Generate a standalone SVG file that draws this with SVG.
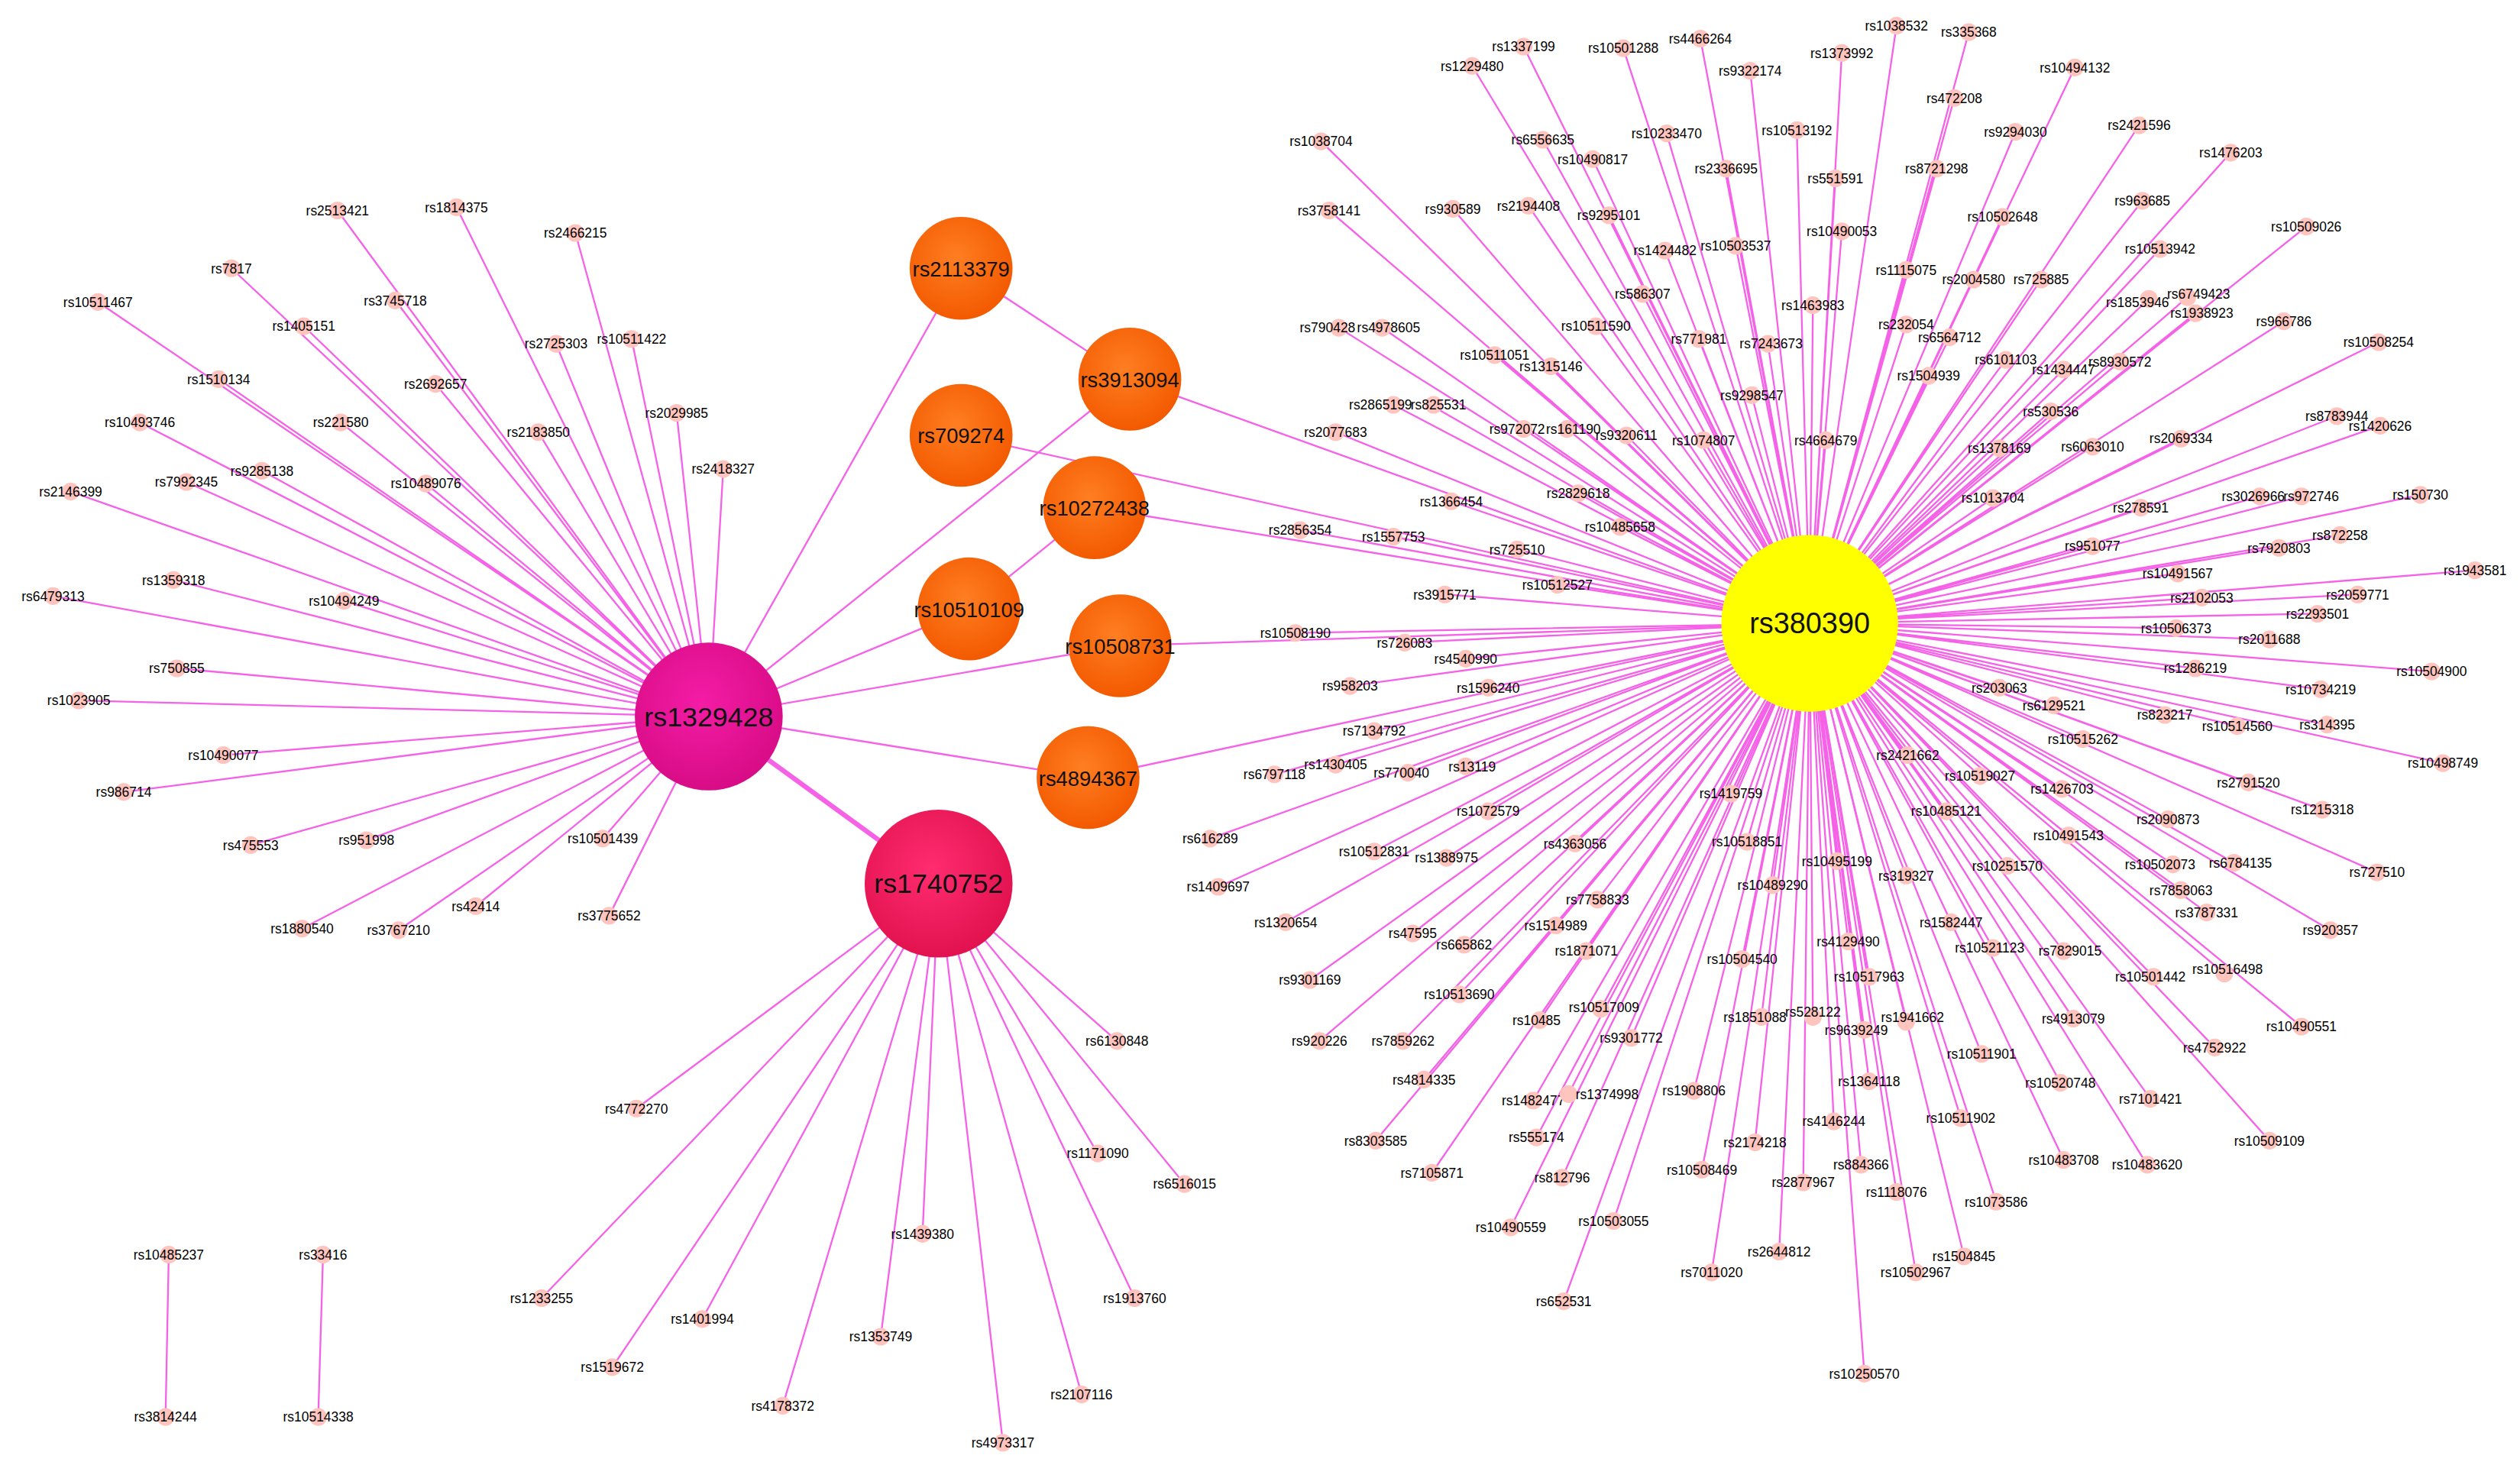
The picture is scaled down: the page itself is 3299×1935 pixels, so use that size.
<svg xmlns="http://www.w3.org/2000/svg" width="3299" height="1935" viewBox="0 0 3299 1935">
<style>
.e{stroke:#f562e8;stroke-width:1.1;fill:none}
.t{stroke:#f562e8;stroke-width:3;fill:none}
.d{fill:#ffc4bd}
.l{font-family:"Liberation Sans",Arial,sans-serif;font-size:8.3px;fill:#000;text-anchor:middle}
.h{font-family:"Liberation Sans",Arial,sans-serif;fill:#111;text-anchor:middle}
</style>
<defs>
<radialGradient id="gO" cx="0.45" cy="0.4" r="0.6"><stop offset="0" stop-color="#ff7e22"/><stop offset="1" stop-color="#f35a00"/></radialGradient>
<radialGradient id="gH1" cx="0.45" cy="0.4" r="0.6"><stop offset="0" stop-color="#f41ca6"/><stop offset="1" stop-color="#d80c86"/></radialGradient>
<radialGradient id="gH2" cx="0.45" cy="0.4" r="0.6"><stop offset="0" stop-color="#ff2d70"/><stop offset="1" stop-color="#e2114f"/></radialGradient>
</defs>
<rect width="3299" height="1935" fill="#fff"/>
<g transform="scale(2.104,2.1033)">
<g id="connectors">
<path class="t" d="M441 446L584 550"/>
<path class="e" d="M441 446L598 167M598 167L703 236M441 446L703 236M703 236L1126 388M598 271L1126 388M441 446L603 379M603 379L681 316M681 316L1126 388M441 446L697 402M697 402L1126 388M441 446L677 484M677 484L1126 388"/>
<path class="e" d="M441 446L210 131M441 446L284 129M441 446L358 145M441 446L144 167M441 446L61 188M441 446L246 187M441 446L189 203M441 446L346 214M441 446L393 211M441 446L136 236M441 446L271 239M441 446L421 257M441 446L87 263M441 446L212 263M441 446L335 269M441 446L450 292M441 446L163 293M441 446L116 300M441 446L265 301M441 446L44 306M441 446L108 361M441 446L33 371M441 446L214 374M441 446L110 416M441 446L49 436M441 446L139 470M441 446L77 493M441 446L156 526M441 446L228 523M441 446L375 522M441 446L296 564M441 446L188 578M441 446L248 579M441 446L379 570"/>
<path class="e" d="M584 550L695 648M584 550L396 690M584 550L683 718M584 550L737 737M584 550L574 768M584 550L337 808M584 550L437 821M584 550L706 808M584 550L548 832M584 550L381 851M584 550L673 868M584 550L487 875M584 550L624 898M105 781L103 882M201 781L198 882"/>
<path class="e" d="M1126 388L1180 16M1126 388L1225 20M1126 388L1058 24M1126 388L948 29M1126 388L1010 30M1126 388L1146 33M1126 388L916 41M1126 388L1089 44M1126 388L1291 42M1126 388L1216 61M1126 388L1118 81M1126 388L1037 83M1126 388L822 88M1126 388L960 87M1126 388L991 99M1126 388L1254 82M1126 388L1331 78M1126 388L1388 95M1126 388L1074 105M1126 388L1142 111M1126 388L1205 105M1126 388L827 131M1126 388L904 130M1126 388L951 128M1126 388L1001 134M1126 388L1146 144M1126 388L1246 135M1126 388L1333 125M1126 388L1435 141M1126 388L1036 156M1126 388L1080 153M1126 388L1344 155M1126 388L1186 168M1126 388L1228 174M1126 388L1270 174M1126 388L1022 183M1126 388L1128 190M1126 388L1337 186M1126 388L1361 185M1126 388L1366 195M1126 388L1421 200M1126 388L993 203M1126 388L1057 211M1126 388L1100 214M1126 388L1480 213M1126 388L1186 202M1126 388L1213 210M1126 388L1248 224M1126 388L1284 230M1126 388L1319 225M1126 388L833 204M1126 388L860 204M1126 388L930 221M1126 388L965 228M1126 388L1200 234M1126 388L867 252M1126 388L890 252M1126 388L1090 246M1126 388L831 269M1126 388L948 267M1126 388L975 267M1126 388L1012 271M1126 388L1060 274M1126 388L1136 274M1126 388L1276 256M1126 388L1454 259M1126 388L1481 265M1126 388L1244 279M1126 388L1302 278M1126 388L1357 273M1126 388L903 312M1126 388L982 307M1126 388L1008 328M1126 388L809 330M1126 388L867 334M1126 388L944 342M1126 388L969 364M1126 388L899 370M1126 388L1240 310M1126 388L1332 316M1126 388L1406 309M1126 388L1432 309M1126 388L1506 308M1126 388L1302 340M1126 388L1456 333M1126 388L1418 341M1126 388L1355 357M1126 388L1540 355M1126 388L1370 372M1126 388L1467 370M1126 388L1442 382M1126 388L1354 391M1126 388L1412 398M1126 388L1366 416M1126 388L1513 418M1126 388L1444 429M1126 388L1244 428M1126 388L1278 439M1126 388L1347 445M1126 388L1392 452M1126 388L1448 451M1126 388L1296 460M1126 388L1520 475M1126 388L1187 470M1126 388L1232 483M1126 388L1283 491M1126 388L1399 487M1126 388L1445 504M1126 388L1211 505M1126 388L1349 510M1126 388L1287 520M1126 388L1352 538M1126 388L1390 537M1126 388L1479 543M1126 388L1249 539M1126 388L1186 545M1126 388L1357 554M1126 388L1373 568M1126 388L1214 574M1126 388L1450 579M1126 388L1240 590M1126 388L1284 592M1126 388L1340 608M1126 388L1384 606M1126 388L1290 634M1126 388L1432 639M1126 388L1378 652M1126 388L1233 656M1126 388L1282 674M1126 388L1338 684M1126 388L1412 710M1126 388L1284 722M1126 388L1336 725M1126 388L1242 748M1126 388L1222 782M1126 388L1192 792M1126 388L1160 855"/>
<path class="e" d="M1126 388L1077 494M1126 388L1087 524M1126 388L1143 536M1126 388L1103 551M1126 388L1150 586M1126 388L1084 597M1126 388L1163 608M1126 388L1096 633M1126 388L1128 633M1126 388L1160 641M1126 388L1186 636M1126 388L1163 673M1126 388L1141 698M1126 388L1220 696M1126 388L1092 711M1126 388L1059 728M1126 388L1158 725M1126 388L1122 736M1126 388L1180 742M1126 388L1107 779M1126 388L1065 792M1126 388L1054 679"/>
<path class="e" d="M1126 388L806 394M1126 388L874 400M1126 388L912 410M1126 388L840 427M1126 388L926 428M1126 388L855 455M1126 388L793 482M1126 388L831 476M1126 388L876 481M1126 388L912 477M1126 388L926 505M1126 388L980 525M1126 388L753 522M1126 388L855 530M1126 388L900 534M1126 388L758 552M1126 388L994 560M1126 388L800 574M1126 388L879 581M1126 388L911 588M1126 388L968 576M1126 388L987 592M1126 388L815 610M1126 388L908 619M1126 388L958 635M1126 388L996 628M1126 388L1015 646M1126 388L821 648M1126 388L873 648M1126 388L886 672M1126 388L954 685M1126 388L976 681M1126 388L856 710M1126 388L956 708M1126 388L891 730M1126 388L972 733M1126 388L1004 760M1126 388L940 764M1126 388L973 810"/>
</g>
<g id="leaves">
<g id="n1"><circle class="d" cx="210" cy="131" r="5.5"/><text class="l" x="210" y="134">rs2513421</text></g>
<g id="n2"><circle class="d" cx="284" cy="129" r="5.5"/><text class="l" x="284" y="132">rs1814375</text></g>
<g id="n3"><circle class="d" cx="358" cy="145" r="5.5"/><text class="l" x="358" y="148">rs2466215</text></g>
<g id="n4"><circle class="d" cx="144" cy="167" r="5.5"/><text class="l" x="144" y="170">rs7817</text></g>
<g id="n5"><circle class="d" cx="61" cy="188" r="5.5"/><text class="l" x="61" y="191">rs10511467</text></g>
<g id="n6"><circle class="d" cx="246" cy="187" r="5.5"/><text class="l" x="246" y="190">rs3745718</text></g>
<g id="n7"><circle class="d" cx="189" cy="203" r="5.5"/><text class="l" x="189" y="206">rs1405151</text></g>
<g id="n8"><circle class="d" cx="346" cy="214" r="5.5"/><text class="l" x="346" y="217">rs2725303</text></g>
<g id="n9"><circle class="d" cx="393" cy="211" r="5.5"/><text class="l" x="393" y="214">rs10511422</text></g>
<g id="n10"><circle class="d" cx="136" cy="236" r="5.5"/><text class="l" x="136" y="239">rs1510134</text></g>
<g id="n11"><circle class="d" cx="271" cy="239" r="5.5"/><text class="l" x="271" y="242">rs2692657</text></g>
<g id="n12"><circle class="d" cx="421" cy="257" r="5.5"/><text class="l" x="421" y="260">rs2029985</text></g>
<g id="n13"><circle class="d" cx="87" cy="263" r="5.5"/><text class="l" x="87" y="266">rs10493746</text></g>
<g id="n14"><circle class="d" cx="212" cy="263" r="5.5"/><text class="l" x="212" y="266">rs221580</text></g>
<g id="n15"><circle class="d" cx="335" cy="269" r="5.5"/><text class="l" x="335" y="272">rs2183850</text></g>
<g id="n16"><circle class="d" cx="450" cy="292" r="5.5"/><text class="l" x="450" y="295">rs2418327</text></g>
<g id="n17"><circle class="d" cx="163" cy="293" r="5.5"/><text class="l" x="163" y="296">rs9285138</text></g>
<g id="n18"><circle class="d" cx="116" cy="300" r="5.5"/><text class="l" x="116" y="303">rs7992345</text></g>
<g id="n19"><circle class="d" cx="265" cy="301" r="5.5"/><text class="l" x="265" y="304">rs10489076</text></g>
<g id="n20"><circle class="d" cx="44" cy="306" r="5.5"/><text class="l" x="44" y="309">rs2146399</text></g>
<g id="n21"><circle class="d" cx="108" cy="361" r="5.5"/><text class="l" x="108" y="364">rs1359318</text></g>
<g id="n22"><circle class="d" cx="33" cy="371" r="5.5"/><text class="l" x="33" y="374">rs6479313</text></g>
<g id="n23"><circle class="d" cx="214" cy="374" r="5.5"/><text class="l" x="214" y="377">rs10494249</text></g>
<g id="n24"><circle class="d" cx="110" cy="416" r="5.5"/><text class="l" x="110" y="419">rs750855</text></g>
<g id="n25"><circle class="d" cx="49" cy="436" r="5.5"/><text class="l" x="49" y="439">rs1023905</text></g>
<g id="n26"><circle class="d" cx="139" cy="470" r="5.5"/><text class="l" x="139" y="473">rs10490077</text></g>
<g id="n27"><circle class="d" cx="77" cy="493" r="5.5"/><text class="l" x="77" y="496">rs986714</text></g>
<g id="n28"><circle class="d" cx="156" cy="526" r="5.5"/><text class="l" x="156" y="529">rs475553</text></g>
<g id="n29"><circle class="d" cx="228" cy="523" r="5.5"/><text class="l" x="228" y="526">rs951998</text></g>
<g id="n30"><circle class="d" cx="375" cy="522" r="5.5"/><text class="l" x="375" y="525">rs10501439</text></g>
<g id="n31"><circle class="d" cx="296" cy="564" r="5.5"/><text class="l" x="296" y="567">rs42414</text></g>
<g id="n32"><circle class="d" cx="188" cy="578" r="5.5"/><text class="l" x="188" y="581">rs1880540</text></g>
<g id="n33"><circle class="d" cx="248" cy="579" r="5.5"/><text class="l" x="248" y="582">rs3767210</text></g>
<g id="n34"><circle class="d" cx="379" cy="570" r="5.5"/><text class="l" x="379" y="573">rs3775652</text></g>
<g id="n35"><circle class="d" cx="695" cy="648" r="5.5"/><text class="l" x="695" y="651">rs6130848</text></g>
<g id="n36"><circle class="d" cx="396" cy="690" r="5.5"/><text class="l" x="396" y="693">rs4772270</text></g>
<g id="n37"><circle class="d" cx="683" cy="718" r="5.5"/><text class="l" x="683" y="721">rs1171090</text></g>
<g id="n38"><circle class="d" cx="737" cy="737" r="5.5"/><text class="l" x="737" y="740">rs6516015</text></g>
<g id="n39"><circle class="d" cx="574" cy="768" r="5.5"/><text class="l" x="574" y="771">rs1439380</text></g>
<g id="n40"><circle class="d" cx="337" cy="808" r="5.5"/><text class="l" x="337" y="811">rs1233255</text></g>
<g id="n41"><circle class="d" cx="437" cy="821" r="5.5"/><text class="l" x="437" y="824">rs1401994</text></g>
<g id="n42"><circle class="d" cx="706" cy="808" r="5.5"/><text class="l" x="706" y="811">rs1913760</text></g>
<g id="n43"><circle class="d" cx="548" cy="832" r="5.5"/><text class="l" x="548" y="835">rs1353749</text></g>
<g id="n44"><circle class="d" cx="381" cy="851" r="5.5"/><text class="l" x="381" y="854">rs1519672</text></g>
<g id="n45"><circle class="d" cx="673" cy="868" r="5.5"/><text class="l" x="673" y="871">rs2107116</text></g>
<g id="n46"><circle class="d" cx="487" cy="875" r="5.5"/><text class="l" x="487" y="878">rs4178372</text></g>
<g id="n47"><circle class="d" cx="624" cy="898" r="5.5"/><text class="l" x="624" y="901">rs4973317</text></g>
<g id="n48"><circle class="d" cx="105" cy="781" r="5.5"/><text class="l" x="105" y="784">rs10485237</text></g>
<g id="n49"><circle class="d" cx="103" cy="882" r="5.5"/><text class="l" x="103" y="885">rs3814244</text></g>
<g id="n50"><circle class="d" cx="201" cy="781" r="5.5"/><text class="l" x="201" y="784">rs33416</text></g>
<g id="n51"><circle class="d" cx="198" cy="882" r="5.5"/><text class="l" x="198" y="885">rs10514338</text></g>
<g id="m1"><circle class="d" cx="1180" cy="16" r="5.5"/><text class="l" x="1180" y="19">rs1038532</text></g>
<g id="m2"><circle class="d" cx="1225" cy="20" r="5.5"/><text class="l" x="1225" y="23">rs335368</text></g>
<g id="m3"><circle class="d" cx="1058" cy="24" r="5.5"/><text class="l" x="1058" y="27">rs4466264</text></g>
<g id="m4"><circle class="d" cx="948" cy="29" r="5.5"/><text class="l" x="948" y="32">rs1337199</text></g>
<g id="m5"><circle class="d" cx="1010" cy="30" r="5.5"/><text class="l" x="1010" y="33">rs10501288</text></g>
<g id="m6"><circle class="d" cx="1146" cy="33" r="5.5"/><text class="l" x="1146" y="36">rs1373992</text></g>
<g id="m7"><circle class="d" cx="916" cy="41" r="5.5"/><text class="l" x="916" y="44">rs1229480</text></g>
<g id="m8"><circle class="d" cx="1089" cy="44" r="5.5"/><text class="l" x="1089" y="47">rs9322174</text></g>
<g id="m9"><circle class="d" cx="1291" cy="42" r="5.5"/><text class="l" x="1291" y="45">rs10494132</text></g>
<g id="m10"><circle class="d" cx="1216" cy="61" r="5.5"/><text class="l" x="1216" y="64">rs472208</text></g>
<g id="m11"><circle class="d" cx="1118" cy="81" r="5.5"/><text class="l" x="1118" y="84">rs10513192</text></g>
<g id="m12"><circle class="d" cx="1037" cy="83" r="5.5"/><text class="l" x="1037" y="86">rs10233470</text></g>
<g id="m13"><circle class="d" cx="822" cy="88" r="5.5"/><text class="l" x="822" y="91">rs1038704</text></g>
<g id="m14"><circle class="d" cx="960" cy="87" r="5.5"/><text class="l" x="960" y="90">rs6556635</text></g>
<g id="m15"><circle class="d" cx="991" cy="99" r="5.5"/><text class="l" x="991" y="102">rs10490817</text></g>
<g id="m16"><circle class="d" cx="1254" cy="82" r="5.5"/><text class="l" x="1254" y="85">rs9294030</text></g>
<g id="m17"><circle class="d" cx="1331" cy="78" r="5.5"/><text class="l" x="1331" y="81">rs2421596</text></g>
<g id="m18"><circle class="d" cx="1388" cy="95" r="5.5"/><text class="l" x="1388" y="98">rs1476203</text></g>
<g id="m19"><circle class="d" cx="1074" cy="105" r="5.5"/><text class="l" x="1074" y="108">rs2336695</text></g>
<g id="m20"><circle class="d" cx="1142" cy="111" r="5.5"/><text class="l" x="1142" y="114">rs551591</text></g>
<g id="m21"><circle class="d" cx="1205" cy="105" r="5.5"/><text class="l" x="1205" y="108">rs8721298</text></g>
<g id="m22"><circle class="d" cx="827" cy="131" r="5.5"/><text class="l" x="827" y="134">rs3758141</text></g>
<g id="m23"><circle class="d" cx="904" cy="130" r="5.5"/><text class="l" x="904" y="133">rs930589</text></g>
<g id="m24"><circle class="d" cx="951" cy="128" r="5.5"/><text class="l" x="951" y="131">rs2194408</text></g>
<g id="m25"><circle class="d" cx="1001" cy="134" r="5.5"/><text class="l" x="1001" y="137">rs9295101</text></g>
<g id="m26"><circle class="d" cx="1146" cy="144" r="5.5"/><text class="l" x="1146" y="147">rs10490053</text></g>
<g id="m27"><circle class="d" cx="1246" cy="135" r="5.5"/><text class="l" x="1246" y="138">rs10502648</text></g>
<g id="m28"><circle class="d" cx="1333" cy="125" r="5.5"/><text class="l" x="1333" y="128">rs963685</text></g>
<g id="m29"><circle class="d" cx="1435" cy="141" r="5.5"/><text class="l" x="1435" y="144">rs10509026</text></g>
<g id="m30"><circle class="d" cx="1036" cy="156" r="5.5"/><text class="l" x="1036" y="159">rs1424482</text></g>
<g id="m31"><circle class="d" cx="1080" cy="153" r="5.5"/><text class="l" x="1080" y="156">rs10503537</text></g>
<g id="m32"><circle class="d" cx="1344" cy="155" r="5.5"/><text class="l" x="1344" y="158">rs10513942</text></g>
<g id="m33"><circle class="d" cx="1186" cy="168" r="5.5"/><text class="l" x="1186" y="171">rs1115075</text></g>
<g id="m34"><circle class="d" cx="1228" cy="174" r="5.5"/><text class="l" x="1228" y="177">rs2004580</text></g>
<g id="m35"><circle class="d" cx="1270" cy="174" r="5.5"/><text class="l" x="1270" y="177">rs725885</text></g>
<g id="m36"><circle class="d" cx="1022" cy="183" r="5.5"/><text class="l" x="1022" y="186">rs586307</text></g>
<g id="m37"><circle class="d" cx="1128" cy="190" r="5.5"/><text class="l" x="1128" y="193">rs1463983</text></g>
<g id="m38"><circle class="d" cx="1337" cy="186" r="5.5"/><text class="l" x="1330" y="191">rs1853946</text></g>
<g id="m39"><circle class="d" cx="1361" cy="185" r="5.5"/><text class="l" x="1368" y="186">rs6749423</text></g>
<g id="m40"><circle class="d" cx="1366" cy="195" r="5.5"/><text class="l" x="1370" y="198">rs1938923</text></g>
<g id="m41"><circle class="d" cx="1421" cy="200" r="5.5"/><text class="l" x="1421" y="203">rs966786</text></g>
<g id="m42"><circle class="d" cx="993" cy="203" r="5.5"/><text class="l" x="993" y="206">rs10511590</text></g>
<g id="m43"><circle class="d" cx="1057" cy="211" r="5.5"/><text class="l" x="1057" y="214">rs771981</text></g>
<g id="m44"><circle class="d" cx="1100" cy="214" r="5.5"/><text class="l" x="1102" y="217">rs7243673</text></g>
<g id="m45"><circle class="d" cx="1480" cy="213" r="5.5"/><text class="l" x="1480" y="216">rs10508254</text></g>
<g id="m46"><circle class="d" cx="1186" cy="202" r="5.5"/><text class="l" x="1186" y="205">rs232054</text></g>
<g id="m47"><circle class="d" cx="1213" cy="210" r="5.5"/><text class="l" x="1213" y="213">rs6564712</text></g>
<g id="m48"><circle class="d" cx="1248" cy="224" r="5.5"/><text class="l" x="1248" y="227">rs6101103</text></g>
<g id="m49"><circle class="d" cx="1284" cy="230" r="5.5"/><text class="l" x="1284" y="233">rs1434447</text></g>
<g id="m50"><circle class="d" cx="1319" cy="225" r="5.5"/><text class="l" x="1319" y="228">rs8930572</text></g>
<g id="m51"><circle class="d" cx="833" cy="204" r="5.5"/><text class="l" x="826" y="207">rs790428</text></g>
<g id="m52"><circle class="d" cx="860" cy="204" r="5.5"/><text class="l" x="864" y="207">rs4978605</text></g>
<g id="m53"><circle class="d" cx="930" cy="221" r="5.5"/><text class="l" x="930" y="224">rs10511051</text></g>
<g id="m54"><circle class="d" cx="965" cy="228" r="5.5"/><text class="l" x="965" y="231">rs1315146</text></g>
<g id="m55"><circle class="d" cx="1200" cy="234" r="5.5"/><text class="l" x="1200" y="237">rs1504939</text></g>
<g id="m56"><circle class="d" cx="867" cy="252" r="5.5"/><text class="l" x="859" y="255">rs2865199</text></g>
<g id="m57"><circle class="d" cx="892" cy="252" r="5.5"/><text class="l" x="895" y="255">rs825531</text></g>
<g id="m58"><circle class="d" cx="1090" cy="246" r="5.5"/><text class="l" x="1090" y="249">rs9298547</text></g>
<g id="m59"><circle class="d" cx="831" cy="269" r="5.5"/><text class="l" x="831" y="272">rs2077683</text></g>
<g id="m60"><circle class="d" cx="948" cy="267" r="5.5"/><text class="l" x="944" y="270">rs972072</text></g>
<g id="m61"><circle class="d" cx="975" cy="267" r="5.5"/><text class="l" x="979" y="270">rs161190</text></g>
<g id="m62"><circle class="d" cx="1012" cy="271" r="5.5"/><text class="l" x="1012" y="274">rs9320611</text></g>
<g id="m63"><circle class="d" cx="1060" cy="274" r="5.5"/><text class="l" x="1060" y="277">rs1074807</text></g>
<g id="m64"><circle class="d" cx="1136" cy="274" r="5.5"/><text class="l" x="1136" y="277">rs4664679</text></g>
<g id="m65"><circle class="d" cx="1276" cy="256" r="5.5"/><text class="l" x="1276" y="259">rs530536</text></g>
<g id="m66"><circle class="d" cx="1454" cy="259" r="5.5"/><text class="l" x="1454" y="262">rs8783944</text></g>
<g id="m67"><circle class="d" cx="1481" cy="265" r="5.5"/><text class="l" x="1481" y="268">rs1420626</text></g>
<g id="m68"><circle class="d" cx="1244" cy="279" r="5.5"/><text class="l" x="1244" y="282">rs1378169</text></g>
<g id="m69"><circle class="d" cx="1302" cy="278" r="5.5"/><text class="l" x="1302" y="281">rs6063010</text></g>
<g id="m70"><circle class="d" cx="1357" cy="273" r="5.5"/><text class="l" x="1357" y="276">rs2069334</text></g>
<g id="m71"><circle class="d" cx="903" cy="312" r="5.5"/><text class="l" x="903" y="315">rs1366454</text></g>
<g id="m72"><circle class="d" cx="982" cy="307" r="5.5"/><text class="l" x="982" y="310">rs2829618</text></g>
<g id="m73"><circle class="d" cx="1008" cy="328" r="5.5"/><text class="l" x="1008" y="331">rs10485658</text></g>
<g id="m74"><circle class="d" cx="809" cy="330" r="5.5"/><text class="l" x="809" y="333">rs2856354</text></g>
<g id="m75"><circle class="d" cx="867" cy="334" r="5.5"/><text class="l" x="867" y="337">rs1557753</text></g>
<g id="m76"><circle class="d" cx="944" cy="342" r="5.5"/><text class="l" x="944" y="345">rs725510</text></g>
<g id="m77"><circle class="d" cx="969" cy="364" r="5.5"/><text class="l" x="969" y="367">rs10512527</text></g>
<g id="m78"><circle class="d" cx="899" cy="370" r="5.5"/><text class="l" x="899" y="373">rs3915771</text></g>
<g id="m79"><circle class="d" cx="1240" cy="310" r="5.5"/><text class="l" x="1240" y="313">rs1013704</text></g>
<g id="m80"><circle class="d" cx="1332" cy="316" r="5.5"/><text class="l" x="1332" y="319">rs278591</text></g>
<g id="m81"><circle class="d" cx="1406" cy="309" r="5.5"/><text class="l" x="1402" y="312">rs3026966</text></g>
<g id="m82"><circle class="d" cx="1432" cy="309" r="5.5"/><text class="l" x="1438" y="312">rs972746</text></g>
<g id="m83"><circle class="d" cx="1506" cy="308" r="5.5"/><text class="l" x="1506" y="311">rs150730</text></g>
<g id="m84"><circle class="d" cx="1302" cy="340" r="5.5"/><text class="l" x="1302" y="343">rs951077</text></g>
<g id="m85"><circle class="d" cx="1456" cy="333" r="5.5"/><text class="l" x="1456" y="336">rs872258</text></g>
<g id="m86"><circle class="d" cx="1418" cy="341" r="5.5"/><text class="l" x="1418" y="344">rs7920803</text></g>
<g id="m87"><circle class="d" cx="1355" cy="357" r="5.5"/><text class="l" x="1355" y="360">rs10491567</text></g>
<g id="m88"><circle class="d" cx="1540" cy="355" r="5.5"/><text class="l" x="1540" y="358">rs1943581</text></g>
<g id="m89"><circle class="d" cx="1370" cy="372" r="5.5"/><text class="l" x="1370" y="375">rs2102053</text></g>
<g id="m90"><circle class="d" cx="1467" cy="370" r="5.5"/><text class="l" x="1467" y="373">rs2059771</text></g>
<g id="m91"><circle class="d" cx="1442" cy="382" r="5.5"/><text class="l" x="1442" y="385">rs2293501</text></g>
<g id="m92"><circle class="d" cx="1354" cy="391" r="5.5"/><text class="l" x="1354" y="394">rs10506373</text></g>
<g id="m93"><circle class="d" cx="1412" cy="398" r="5.5"/><text class="l" x="1412" y="401">rs2011688</text></g>
<g id="m94"><circle class="d" cx="1366" cy="416" r="5.5"/><text class="l" x="1366" y="419">rs1286219</text></g>
<g id="m95"><circle class="d" cx="1513" cy="418" r="5.5"/><text class="l" x="1513" y="421">rs10504900</text></g>
<g id="m96"><circle class="d" cx="1444" cy="429" r="5.5"/><text class="l" x="1444" y="432">rs10734219</text></g>
<g id="m97"><circle class="d" cx="1244" cy="428" r="5.5"/><text class="l" x="1244" y="431">rs203063</text></g>
<g id="m98"><circle class="d" cx="1278" cy="439" r="5.5"/><text class="l" x="1278" y="442">rs6129521</text></g>
<g id="m99"><circle class="d" cx="1347" cy="445" r="5.5"/><text class="l" x="1347" y="448">rs823217</text></g>
<g id="m100"><circle class="d" cx="1392" cy="452" r="5.5"/><text class="l" x="1392" y="455">rs10514560</text></g>
<g id="m101"><circle class="d" cx="1448" cy="451" r="5.5"/><text class="l" x="1448" y="454">rs314395</text></g>
<g id="m102"><circle class="d" cx="1296" cy="460" r="5.5"/><text class="l" x="1296" y="463">rs10515262</text></g>
<g id="m103"><circle class="d" cx="1520" cy="475" r="5.5"/><text class="l" x="1520" y="478">rs10498749</text></g>
<g id="m104"><circle class="d" cx="1187" cy="470" r="5.5"/><text class="l" x="1187" y="473">rs2421662</text></g>
<g id="m105"><circle class="d" cx="1232" cy="483" r="5.5"/><text class="l" x="1232" y="486">rs10519027</text></g>
<g id="m106"><circle class="d" cx="1283" cy="491" r="5.5"/><text class="l" x="1283" y="494">rs1426703</text></g>
<g id="m107"><circle class="d" cx="1399" cy="487" r="5.5"/><text class="l" x="1399" y="490">rs2791520</text></g>
<g id="m108"><circle class="d" cx="1445" cy="504" r="5.5"/><text class="l" x="1445" y="507">rs1215318</text></g>
<g id="m109"><circle class="d" cx="1211" cy="505" r="5.5"/><text class="l" x="1211" y="508">rs10485121</text></g>
<g id="m110"><circle class="d" cx="1349" cy="510" r="5.5"/><text class="l" x="1349" y="513">rs2090873</text></g>
<g id="m111"><circle class="d" cx="1287" cy="520" r="5.5"/><text class="l" x="1287" y="523">rs10491543</text></g>
<g id="m112"><circle class="d" cx="1352" cy="538" r="5.5"/><text class="l" x="1344" y="541">rs10502073</text></g>
<g id="m113"><circle class="d" cx="1390" cy="537" r="5.5"/><text class="l" x="1394" y="540">rs6784135</text></g>
<g id="m114"><circle class="d" cx="1479" cy="543" r="5.5"/><text class="l" x="1479" y="546">rs727510</text></g>
<g id="m115"><circle class="d" cx="1249" cy="539" r="5.5"/><text class="l" x="1249" y="542">rs10251570</text></g>
<g id="m116"><circle class="d" cx="1186" cy="545" r="5.5"/><text class="l" x="1186" y="548">rs319327</text></g>
<g id="m117"><circle class="d" cx="1357" cy="554" r="5.5"/><text class="l" x="1357" y="557">rs7858063</text></g>
<g id="m118"><circle class="d" cx="1373" cy="568" r="5.5"/><text class="l" x="1373" y="571">rs3787331</text></g>
<g id="m119"><circle class="d" cx="1214" cy="574" r="5.5"/><text class="l" x="1214" y="577">rs1582447</text></g>
<g id="m120"><circle class="d" cx="1450" cy="579" r="5.5"/><text class="l" x="1450" y="582">rs920357</text></g>
<g id="m121"><circle class="d" cx="1240" cy="590" r="5.5"/><text class="l" x="1238" y="593">rs10521123</text></g>
<g id="m122"><circle class="d" cx="1284" cy="592" r="5.5"/><text class="l" x="1288" y="595">rs7829015</text></g>
<g id="m123"><circle class="d" cx="1340" cy="608" r="5.5"/><text class="l" x="1338" y="611">rs10501442</text></g>
<g id="m124"><circle class="d" cx="1384" cy="606" r="5.5"/><text class="l" x="1386" y="606">rs10516498</text></g>
<g id="m125"><circle class="d" cx="1290" cy="634" r="5.5"/><text class="l" x="1290" y="637">rs4913079</text></g>
<g id="m126"><circle class="d" cx="1432" cy="639" r="5.5"/><text class="l" x="1432" y="642">rs10490551</text></g>
<g id="m127"><circle class="d" cx="1378" cy="652" r="5.5"/><text class="l" x="1378" y="655">rs4752922</text></g>
<g id="m128"><circle class="d" cx="1233" cy="656" r="5.5"/><text class="l" x="1233" y="659">rs10511901</text></g>
<g id="m129"><circle class="d" cx="1282" cy="674" r="5.5"/><text class="l" x="1282" y="677">rs10520748</text></g>
<g id="m130"><circle class="d" cx="1338" cy="684" r="5.5"/><text class="l" x="1338" y="687">rs7101421</text></g>
<g id="m131"><circle class="d" cx="1412" cy="710" r="5.5"/><text class="l" x="1412" y="713">rs10509109</text></g>
<g id="m132"><circle class="d" cx="1284" cy="722" r="5.5"/><text class="l" x="1284" y="725">rs10483708</text></g>
<g id="m133"><circle class="d" cx="1336" cy="725" r="5.5"/><text class="l" x="1336" y="728">rs10483620</text></g>
<g id="m134"><circle class="d" cx="1242" cy="748" r="5.5"/><text class="l" x="1242" y="751">rs1073586</text></g>
<g id="m135"><circle class="d" cx="1222" cy="782" r="5.5"/><text class="l" x="1222" y="785">rs1504845</text></g>
<g id="m136"><circle class="d" cx="1192" cy="792" r="5.5"/><text class="l" x="1192" y="795">rs10502967</text></g>
<g id="m137"><circle class="d" cx="1160" cy="855" r="5.5"/><text class="l" x="1160" y="858">rs10250570</text></g>
<g id="m138"><circle class="d" cx="1077" cy="494" r="5.5"/><text class="l" x="1077" y="497">rs1419759</text></g>
<g id="m139"><circle class="d" cx="1087" cy="524" r="5.5"/><text class="l" x="1087" y="527">rs10518851</text></g>
<g id="m140"><circle class="d" cx="1143" cy="536" r="5.5"/><text class="l" x="1143" y="539">rs10495199</text></g>
<g id="m141"><circle class="d" cx="1103" cy="551" r="5.5"/><text class="l" x="1103" y="554">rs10489290</text></g>
<g id="m142"><circle class="d" cx="1150" cy="586" r="5.5"/><text class="l" x="1150" y="589">rs4129490</text></g>
<g id="m143"><circle class="d" cx="1084" cy="597" r="5.5"/><text class="l" x="1084" y="600">rs10504540</text></g>
<g id="m144"><circle class="d" cx="1163" cy="608" r="5.5"/><text class="l" x="1163" y="611">rs10517963</text></g>
<g id="m145"><circle class="d" cx="1096" cy="633" r="5.5"/><text class="l" x="1092" y="636">rs1851088</text></g>
<g id="m146"><circle class="d" cx="1128" cy="633" r="5.5"/><text class="l" x="1128" y="633">rs528122</text></g>
<g id="m147"><circle class="d" cx="1160" cy="641" r="5.5"/><text class="l" x="1155" y="644">rs9639249</text></g>
<g id="m148"><circle class="d" cx="1186" cy="636" r="5.5"/><text class="l" x="1190" y="636">rs1941662</text></g>
<g id="m149"><circle class="d" cx="1163" cy="673" r="5.5"/><text class="l" x="1163" y="676">rs1364118</text></g>
<g id="m150"><circle class="d" cx="1141" cy="698" r="5.5"/><text class="l" x="1141" y="701">rs4146244</text></g>
<g id="m151"><circle class="d" cx="1220" cy="696" r="5.5"/><text class="l" x="1220" y="699">rs10511902</text></g>
<g id="m152"><circle class="d" cx="1092" cy="711" r="5.5"/><text class="l" x="1092" y="714">rs2174218</text></g>
<g id="m153"><circle class="d" cx="1059" cy="728" r="5.5"/><text class="l" x="1059" y="731">rs10508469</text></g>
<g id="m154"><circle class="d" cx="1158" cy="725" r="5.5"/><text class="l" x="1158" y="728">rs884366</text></g>
<g id="m155"><circle class="d" cx="1122" cy="736" r="5.5"/><text class="l" x="1122" y="739">rs2877967</text></g>
<g id="m156"><circle class="d" cx="1180" cy="742" r="5.5"/><text class="l" x="1180" y="745">rs1118076</text></g>
<g id="m157"><circle class="d" cx="1107" cy="779" r="5.5"/><text class="l" x="1107" y="782">rs2644812</text></g>
<g id="m158"><circle class="d" cx="1065" cy="792" r="5.5"/><text class="l" x="1065" y="795">rs7011020</text></g>
<g id="m159"><circle class="d" cx="1054" cy="679" r="5.5"/><text class="l" x="1054" y="682">rs1908806</text></g>
<g id="m160"><circle class="d" cx="806" cy="394" r="5.5"/><text class="l" x="806" y="397">rs10508190</text></g>
<g id="m161"><circle class="d" cx="874" cy="400" r="5.5"/><text class="l" x="874" y="403">rs726083</text></g>
<g id="m162"><circle class="d" cx="912" cy="410" r="5.5"/><text class="l" x="912" y="413">rs4540990</text></g>
<g id="m163"><circle class="d" cx="840" cy="427" r="5.5"/><text class="l" x="840" y="430">rs958203</text></g>
<g id="m164"><circle class="d" cx="926" cy="428" r="5.5"/><text class="l" x="926" y="431">rs1596240</text></g>
<g id="m165"><circle class="d" cx="855" cy="455" r="5.5"/><text class="l" x="855" y="458">rs7134792</text></g>
<g id="m166"><circle class="d" cx="793" cy="482" r="5.5"/><text class="l" x="793" y="485">rs6797118</text></g>
<g id="m167"><circle class="d" cx="831" cy="476" r="5.5"/><text class="l" x="831" y="479">rs1430405</text></g>
<g id="m168"><circle class="d" cx="876" cy="481" r="5.5"/><text class="l" x="872" y="484">rs770040</text></g>
<g id="m169"><circle class="d" cx="912" cy="477" r="5.5"/><text class="l" x="916" y="480">rs13119</text></g>
<g id="m170"><circle class="d" cx="926" cy="505" r="5.5"/><text class="l" x="926" y="508">rs1072579</text></g>
<g id="m171"><circle class="d" cx="980" cy="525" r="5.5"/><text class="l" x="980" y="528">rs4363056</text></g>
<g id="m172"><circle class="d" cx="753" cy="522" r="5.5"/><text class="l" x="753" y="525">rs616289</text></g>
<g id="m173"><circle class="d" cx="855" cy="530" r="5.5"/><text class="l" x="855" y="533">rs10512831</text></g>
<g id="m174"><circle class="d" cx="900" cy="534" r="5.5"/><text class="l" x="900" y="537">rs1388975</text></g>
<g id="m175"><circle class="d" cx="758" cy="552" r="5.5"/><text class="l" x="758" y="555">rs1409697</text></g>
<g id="m176"><circle class="d" cx="994" cy="560" r="5.5"/><text class="l" x="994" y="563">rs7758833</text></g>
<g id="m177"><circle class="d" cx="800" cy="574" r="5.5"/><text class="l" x="800" y="577">rs1320654</text></g>
<g id="m178"><circle class="d" cx="879" cy="581" r="5.5"/><text class="l" x="879" y="584">rs47595</text></g>
<g id="m179"><circle class="d" cx="911" cy="588" r="5.5"/><text class="l" x="911" y="591">rs665862</text></g>
<g id="m180"><circle class="d" cx="968" cy="576" r="5.5"/><text class="l" x="968" y="579">rs1514989</text></g>
<g id="m181"><circle class="d" cx="987" cy="592" r="5.5"/><text class="l" x="987" y="595">rs1871071</text></g>
<g id="m182"><circle class="d" cx="815" cy="610" r="5.5"/><text class="l" x="815" y="613">rs9301169</text></g>
<g id="m183"><circle class="d" cx="908" cy="619" r="5.5"/><text class="l" x="908" y="622">rs10513690</text></g>
<g id="m184"><circle class="d" cx="958" cy="635" r="5.5"/><text class="l" x="956" y="638">rs10485</text></g>
<g id="m185"><circle class="d" cx="996" cy="628" r="5.5"/><text class="l" x="998" y="630">rs10517009</text></g>
<g id="m186"><circle class="d" cx="1015" cy="646" r="5.5"/><text class="l" x="1015" y="649">rs9301772</text></g>
<g id="m187"><circle class="d" cx="821" cy="648" r="5.5"/><text class="l" x="821" y="651">rs920226</text></g>
<g id="m188"><circle class="d" cx="873" cy="648" r="5.5"/><text class="l" x="873" y="651">rs7859262</text></g>
<g id="m189"><circle class="d" cx="886" cy="672" r="5.5"/><text class="l" x="886" y="675">rs4814335</text></g>
<g id="m190"><circle class="d" cx="954" cy="685" r="5.5"/><text class="l" x="954" y="688">rs1482477</text></g>
<g id="m191"><circle class="d" cx="976" cy="681" r="5.5"/><text class="l" x="1000" y="684">rs1374998</text></g>
<g id="m192"><circle class="d" cx="856" cy="710" r="5.5"/><text class="l" x="856" y="713">rs8303585</text></g>
<g id="m193"><circle class="d" cx="956" cy="708" r="5.5"/><text class="l" x="956" y="711">rs555174</text></g>
<g id="m194"><circle class="d" cx="891" cy="730" r="5.5"/><text class="l" x="891" y="733">rs7105871</text></g>
<g id="m195"><circle class="d" cx="972" cy="733" r="5.5"/><text class="l" x="972" y="736">rs812796</text></g>
<g id="m196"><circle class="d" cx="1004" cy="760" r="5.5"/><text class="l" x="1004" y="763">rs10503055</text></g>
<g id="m197"><circle class="d" cx="940" cy="764" r="5.5"/><text class="l" x="940" y="767">rs10490559</text></g>
<g id="m198"><circle class="d" cx="973" cy="810" r="5.5"/><text class="l" x="973" y="813">rs652531</text></g>
</g>
<g id="rs2113379"><circle cx="598" cy="167" r="32" fill="url(#gO)"/><text class="h" x="598" y="172" font-size="13">rs2113379</text></g>
<g id="rs3913094"><circle cx="703" cy="236" r="32" fill="url(#gO)"/><text class="h" x="703" y="241" font-size="13">rs3913094</text></g>
<g id="rs709274"><circle cx="598" cy="271" r="32" fill="url(#gO)"/><text class="h" x="598" y="276" font-size="13">rs709274</text></g>
<g id="rs10272438"><circle cx="681" cy="316" r="32" fill="url(#gO)"/><text class="h" x="681" y="321" font-size="13">rs10272438</text></g>
<g id="rs10510109"><circle cx="603" cy="379" r="32" fill="url(#gO)"/><text class="h" x="603" y="384" font-size="13">rs10510109</text></g>
<g id="rs10508731"><circle cx="697" cy="402" r="32" fill="url(#gO)"/><text class="h" x="697" y="407" font-size="13">rs10508731</text></g>
<g id="rs4894367"><circle cx="677" cy="484" r="32" fill="url(#gO)"/><text class="h" x="677" y="489" font-size="13">rs4894367</text></g>
<g id="rs1329428"><circle cx="441" cy="446" r="46" fill="url(#gH1)"/><text class="h" x="441" y="452" font-size="17">rs1329428</text></g>
<g id="rs1740752"><circle cx="584" cy="550" r="46" fill="url(#gH2)"/><text class="h" x="584" y="556" font-size="17">rs1740752</text></g>
<g id="rs380390"><circle cx="1126" cy="388" r="55" fill="#ffff00"/><text class="h" x="1126" y="394" font-size="18">rs380390</text></g>
</g>
</svg>
